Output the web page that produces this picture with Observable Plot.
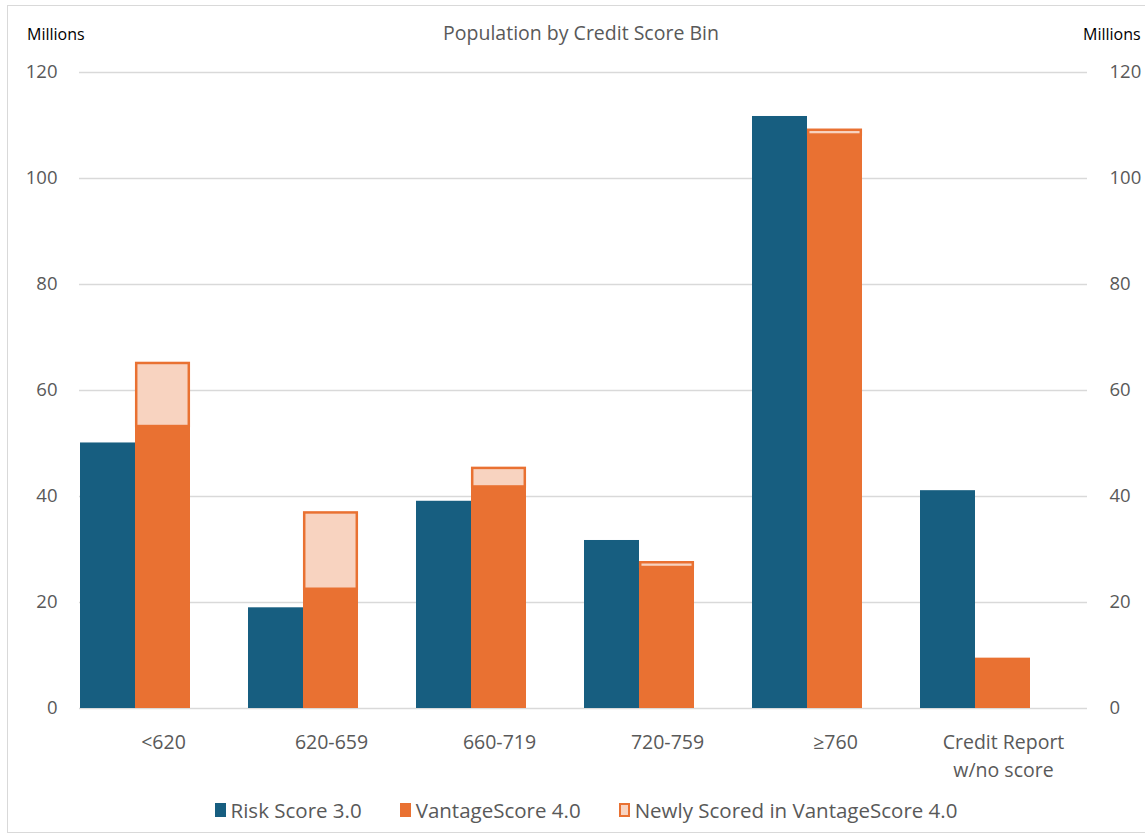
<!DOCTYPE html>
<html>
<head>
<meta charset="utf-8">
<script src="https://cdn.jsdelivr.net/npm/d3@7"></script>
<script src="https://cdn.jsdelivr.net/npm/@observablehq/plot@0.6"></script>
<style>
  html, body { margin: 0; padding: 0; background: #fff; }
  body { width: 1145px; height: 837px; position: relative; overflow: hidden; font-family: "Open Sans", sans-serif; }
  #frame { position: absolute; left: 7px; top: 5px; width: 1150px; height: 828px; border: 1px solid #d9d9d9; box-sizing: border-box; }
  #header { position: absolute; left: 0; top: 0; width: 1145px; height: 50px; }
  #title { position: absolute; left: 0; width: 1162px; top: 19px; text-align: center; font-size: 19.5px; color: #595959; }
  .millions { position: absolute; top: 23px; font-size: 16px; color: #000; }
  #chart { position: absolute; left: 0; top: 50px; }
  #legend { position: absolute; left: 0; width: 1172px; top: 795px; text-align: center; font-size: 20.5px; color: #595959; }
  .item { display: inline-flex; align-items: center; margin: 0 19px; }
  .sw { display: inline-block; width: 11px; height: 14px; margin-right: 5px; box-sizing: border-box; }
</style>
</head>
<body>
<div id="frame"></div>
<div id="header">
  <div id="title">Population by Credit Score Bin</div>
  <div class="millions" style="left:27px">Millions</div>
  <div class="millions" style="left:1083px">Millions</div>
</div>
<div id="chart"></div>
<div id="legend"></div>
<script>
const categories = ["<620", "620-659", "660-719", "720-759", "≥760", "Credit Report\nw/no score"];
const riskScore = [50.1, 19.0, 39.1, 31.7, 111.7, 41.1];
const vantageScore = [53.2, 22.5, 41.8, 26.6, 108.2, 9.5];
const newlyScored = [11.9, 14.4, 3.5, 0.9, 0.9, 0];
const yTicks = [0, 20, 40, 60, 80, 100, 120];

const colRisk = "#175e80";
const colVant = "#e97132";
const colNew = "#f8d3c0";

const rows = categories.map((c, i) => ({
  cat: c,
  risk: riskScore[i],
  vant: vantageScore[i],
  total: vantageScore[i] + newlyScored[i],
  newly: newlyScored[i]
}));

const plot = Plot.plot({
  width: 1145,
  height: 745,
  marginTop: 22,
  marginBottom: 87,
  marginLeft: 78,
  marginRight: 57,
  style: { fontFamily: "Open Sans, sans-serif", fontSize: "18px", color: "#595959", background: "transparent" },
  fx: { domain: categories, padding: 0, label: null },
  x: { domain: ["Risk Score 3.0", "VantageScore 4.0", "gap"], padding: 0, axis: null },
  y: { domain: [0, 120], label: null },
  marks: [
    Plot.ruleY(yTicks, { stroke: "#d9d9d9", strokeWidth: 1.3 }),
    Plot.axisY({ anchor: "left", ticks: yTicks, tickSize: 0, tickPadding: 22, label: null, fontSize: 18.5 }),
    Plot.axisY({ anchor: "right", ticks: yTicks, tickSize: 0, tickPadding: 22, label: null, fontSize: 18.5, textAnchor: "start" }),
    Plot.axisFx({ anchor: "bottom", tickSize: 0, tickPadding: 20, label: null, fontSize: 19.5, lineHeight: 1.45 }),
    Plot.barY(rows, { fx: "cat", x: () => "Risk Score 3.0", y1: 0, y2: "risk", fill: colRisk, insetLeft: 1, insetRight: 0 }),
    Plot.barY(rows, { fx: "cat", x: () => "VantageScore 4.0", y1: 0, y2: "vant", fill: colVant, insetLeft: 0, insetRight: 1 }),
    Plot.barY(rows.filter(d => d.newly > 0), { fx: "cat", x: () => "VantageScore 4.0", y1: "vant", y2: "total", fill: colNew, stroke: colVant, strokeWidth: 2.5, insetLeft: 1.2, insetRight: 2.2 })
  ]
});
document.getElementById("chart").appendChild(plot);

const legendItems = [
  { label: "Risk Score 3.0", fill: colRisk, stroke: colRisk },
  { label: "VantageScore 4.0", fill: colVant, stroke: colVant },
  { label: "Newly Scored in VantageScore 4.0", fill: colNew, stroke: colVant }
];
const legend = document.getElementById("legend");
legendItems.forEach(it => {
  const span = document.createElement("span");
  span.className = "item";
  const sw = document.createElement("span");
  sw.className = "sw";
  sw.style.background = it.fill;
  sw.style.border = "2px solid " + it.stroke;
  span.appendChild(sw);
  span.appendChild(document.createTextNode(it.label));
  legend.appendChild(span);
});
</script>
</body>
</html>
